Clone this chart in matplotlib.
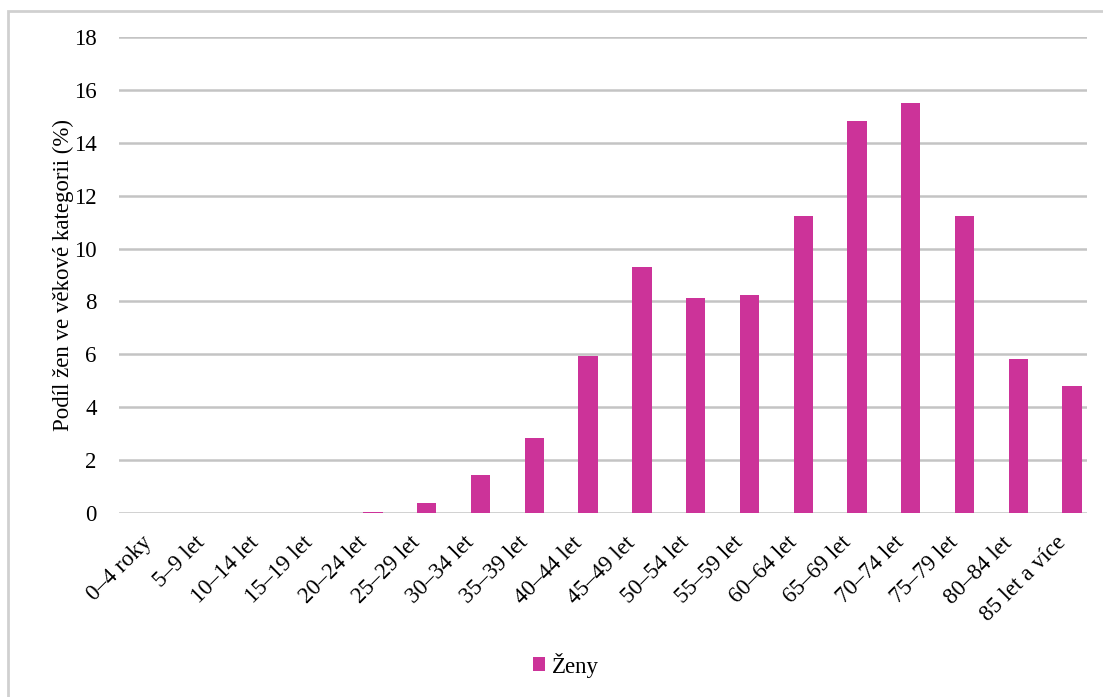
import matplotlib.pyplot as plt
from matplotlib.patches import Rectangle
from matplotlib.transforms import ScaledTranslation
import numpy as np

categories = ['0–4 roky', '5–9 let', '10–14 let', '15–19 let', '20–24 let',
              '25–29 let', '30–34 let', '35–39 let', '40–44 let', '45–49 let',
              '50–54 let', '55–59 let', '60–64 let', '65–69 let', '70–74 let',
              '75–79 let', '80–84 let', '85 let a více']
zeny = [0, 0, 0, 0, 0.04, 0.38, 1.43, 2.85, 5.94, 9.30, 8.12, 8.24,
        11.24, 14.84, 15.52, 11.24, 5.84, 4.80]
yticks = list(range(0, 19, 2))


def main():
    plt.rcParams['font.family'] = ['Liberation Serif', 'DejaVu Serif']
    W, H = 1103, 697
    fig = plt.figure(figsize=(W / 100, H / 100), dpi=100)
    ax = fig.add_axes([119 / W, 1 - 513 / H, (1087 - 119) / W, (513 - 37) / H])

    x = np.arange(len(categories))
    ax.bar(x, zeny, width=0.36, color='#CC3399', label='Ženy', zorder=3)

    shift = 12 / 53.8
    ax.set_xlim(-0.5 - shift, len(categories) - 0.5 - shift)
    ax.set_ylim(0, 18)
    ax.set_yticks(yticks)
    ax.set_xticks(x)
    ax.set_xticklabels(categories, rotation=45, ha='right', rotation_mode='anchor')
    ax.tick_params(axis='both', length=0, labelsize=16.5)
    ax.tick_params(axis='y', pad=16)
    ax.tick_params(axis='x', pad=14)
    off = ScaledTranslation(-17 / 100, 0, fig.dpi_scale_trans)
    for lab in ax.get_xticklabels():
        lab.set_transform(lab.get_transform() + off)
    ax.yaxis.grid(True, color='#C4C4C4', linewidth=1.8, zorder=0)
    for s in ax.spines.values():
        s.set_visible(False)
    ax.set_ylabel('Podíl žen ve věkové kategorii (%)', fontsize=16.5, labelpad=0)

    fig.legend(loc='center', bbox_to_anchor=(566 / W, 1 - 665 / H), frameon=False,
               fontsize=16.5, handlelength=0.55, handleheight=0.55, handletextpad=0.3)

    fig.patches.append(Rectangle((8 / W, -0.1), 1.2, 1.1 - 11 / H,
                                 transform=fig.transFigure, fill=False,
                                 edgecolor='#D0D0D0', linewidth=2))

    fig.savefig('out.png', dpi=100)


if __name__ == '__main__':
    main()
